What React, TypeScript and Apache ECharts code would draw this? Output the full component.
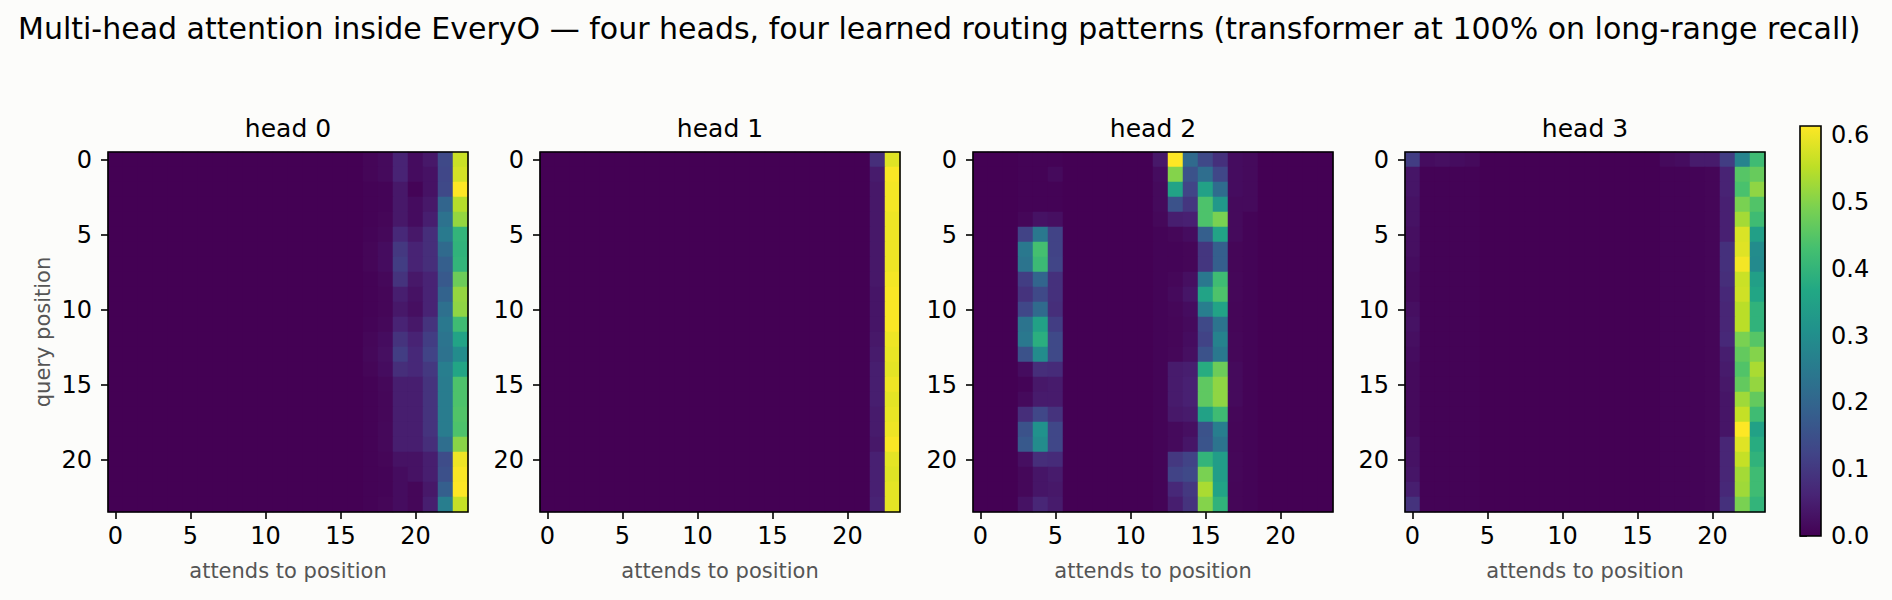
import React, { useEffect, useRef } from 'react';
import * as echarts from 'echarts';

// positions 0..23 (query rows, key columns)
const positions = [
	'0', '1', '2', '3', '4', '5', '6', '7', '8', '9', '10', '11',
	'12', '13', '14', '15', '16', '17', '18', '19', '20', '21', '22', '23'
];
const headNames = ['head 0', 'head 1', 'head 2', 'head 3'];
const vmax = 0.614;

// each head: the key columns that carry weight, and one 24-row array per column
// (columns not listed are ~0)
const head0Cols = [17, 18, 19, 20, 21, 22, 23];
const head0Vals = [
	[0.008, 0.008, 0.003, 0.003, 0.003, 0.005, 0.008, 0.008, 0.004, 0.003, 0.003, 0.005, 0.01, 0.012, 0.008, 0.004, 0.003, 0.003, 0.003, 0.003, 0.003, 0.003, 0.003, 0.003],
	[0.015, 0.015, 0.006, 0.006, 0.008, 0.012, 0.02, 0.02, 0.012, 0.008, 0.008, 0.012, 0.02, 0.025, 0.02, 0.012, 0.01, 0.01, 0.012, 0.012, 0.008, 0.006, 0.006, 0.008],
	[0.06, 0.06, 0.04, 0.04, 0.04, 0.07, 0.1, 0.11, 0.09, 0.05, 0.04, 0.06, 0.09, 0.11, 0.08, 0.05, 0.05, 0.05, 0.05, 0.05, 0.03, 0.02, 0.02, 0.02],
	[0.02, 0.02, 0.005, 0.02, 0.02, 0.04, 0.06, 0.06, 0.04, 0.03, 0.025, 0.04, 0.06, 0.07, 0.07, 0.05, 0.05, 0.05, 0.05, 0.05, 0.03, 0.03, 0.01, 0.01],
	[0.04, 0.03, 0.03, 0.04, 0.05, 0.08, 0.08, 0.08, 0.06, 0.06, 0.06, 0.09, 0.11, 0.12, 0.1, 0.09, 0.09, 0.09, 0.09, 0.08, 0.05, 0.05, 0.04, 0.05],
	[0.135, 0.13, 0.135, 0.2, 0.23, 0.25, 0.21, 0.185, 0.17, 0.195, 0.225, 0.245, 0.235, 0.23, 0.26, 0.255, 0.255, 0.255, 0.255, 0.22, 0.14, 0.15, 0.185, 0.26],
	[0.565, 0.575, 0.614, 0.545, 0.515, 0.4, 0.395, 0.4, 0.475, 0.515, 0.51, 0.42, 0.355, 0.295, 0.36, 0.44, 0.44, 0.445, 0.44, 0.505, 0.6, 0.61, 0.614, 0.56]
];

const head1Cols = [22, 23];
const head1Vals = [
	[0.08, 0.045, 0.04, 0.04, 0.04, 0.04, 0.04, 0.04, 0.04, 0.035, 0.035, 0.035, 0.04, 0.045, 0.05, 0.05, 0.05, 0.045, 0.045, 0.04, 0.055, 0.055, 0.055, 0.06],
	[0.585, 0.61, 0.605, 0.605, 0.6, 0.6, 0.6, 0.6, 0.605, 0.61, 0.61, 0.61, 0.6, 0.595, 0.59, 0.6, 0.59, 0.595, 0.6, 0.61, 0.59, 0.585, 0.59, 0.59]
];

const head2Cols = [3, 4, 5, 12, 13, 14, 15, 16, 17, 18];
const head2Vals = [
	[0.003, 0.003, 0.003, 0.003, 0.01, 0.12, 0.245, 0.235, 0.11, 0.09, 0.13, 0.235, 0.245, 0.155, 0.02, 0.005, 0.015, 0.08, 0.155, 0.17, 0.025, 0.012, 0.012, 0.03],
	[0.003, 0.003, 0.003, 0.003, 0.03, 0.245, 0.43, 0.415, 0.2, 0.135, 0.21, 0.35, 0.385, 0.295, 0.08, 0.04, 0.045, 0.13, 0.31, 0.295, 0.08, 0.035, 0.035, 0.065],
	[0.003, 0.015, 0.003, 0.003, 0.025, 0.12, 0.12, 0.125, 0.085, 0.085, 0.08, 0.11, 0.135, 0.135, 0.075, 0.045, 0.045, 0.09, 0.13, 0.13, 0.075, 0.045, 0.04, 0.045],
	[0.04, 0.02, 0.015, 0.015, 0.012, 0.005, 0.005, 0.005, 0.005, 0.005, 0.005, 0.005, 0.005, 0.005, 0.005, 0.005, 0.005, 0.005, 0.005, 0.005, 0.005, 0.005, 0.005, 0.005],
	[0.614, 0.5, 0.355, 0.155, 0.05, 0.01, 0.005, 0.005, 0.01, 0.015, 0.01, 0.008, 0.008, 0.01, 0.045, 0.045, 0.045, 0.04, 0.015, 0.015, 0.1, 0.12, 0.07, 0.05],
	[0.21, 0.155, 0.125, 0.095, 0.055, 0.02, 0.008, 0.008, 0.025, 0.035, 0.02, 0.015, 0.02, 0.025, 0.05, 0.055, 0.055, 0.045, 0.025, 0.035, 0.12, 0.135, 0.1, 0.09],
	[0.135, 0.22, 0.35, 0.44, 0.44, 0.185, 0.095, 0.095, 0.245, 0.355, 0.26, 0.135, 0.12, 0.155, 0.38, 0.46, 0.46, 0.35, 0.155, 0.16, 0.4, 0.49, 0.535, 0.5],
	[0.085, 0.13, 0.215, 0.325, 0.49, 0.355, 0.185, 0.185, 0.42, 0.44, 0.355, 0.235, 0.27, 0.245, 0.475, 0.51, 0.51, 0.42, 0.26, 0.235, 0.34, 0.34, 0.355, 0.395],
	[0.02, 0.02, 0.02, 0.015, 0.015, 0.015, 0.008, 0.008, 0.01, 0.01, 0.008, 0.008, 0.01, 0.01, 0.015, 0.015, 0.015, 0.01, 0.008, 0.008, 0.01, 0.01, 0.008, 0.008],
	[0.015, 0.015, 0.015, 0.015, 0.005, 0.005, 0.005, 0.005, 0.005, 0.005, 0.005, 0.005, 0.005, 0.005, 0.005, 0.005, 0.005, 0.005, 0.005, 0.005, 0.005, 0.005, 0.005, 0.005]
];

const head3Cols = [0, 1, 2, 3, 4, 17, 18, 19, 20, 21, 22, 23];
const head3Vals = [
	[0.11, 0.035, 0.035, 0.03, 0.03, 0.025, 0.025, 0.02, 0.015, 0.015, 0.025, 0.03, 0.025, 0.02, 0.015, 0.015, 0.015, 0.015, 0.015, 0.03, 0.03, 0.035, 0.05, 0.09],
	[0.02, 0.003, 0.003, 0.003, 0.003, 0.003, 0.003, 0.003, 0.003, 0.003, 0.003, 0.003, 0.003, 0.003, 0.003, 0.003, 0.003, 0.003, 0.003, 0.003, 0.003, 0.003, 0.003, 0.003],
	[0.025, 0.003, 0.003, 0.003, 0.003, 0.003, 0.003, 0.003, 0.003, 0.003, 0.003, 0.003, 0.003, 0.003, 0.003, 0.003, 0.003, 0.003, 0.003, 0.003, 0.003, 0.003, 0.003, 0.003],
	[0.02, 0.003, 0.003, 0.003, 0.003, 0.003, 0.003, 0.003, 0.003, 0.003, 0.003, 0.003, 0.003, 0.003, 0.003, 0.003, 0.003, 0.003, 0.003, 0.003, 0.003, 0.003, 0.003, 0.003],
	[0.015, 0.003, 0.003, 0.003, 0.003, 0.003, 0.003, 0.003, 0.003, 0.003, 0.003, 0.003, 0.003, 0.003, 0.003, 0.003, 0.003, 0.003, 0.003, 0.003, 0.003, 0.003, 0.003, 0.003],
	[0.015, 0.003, 0.003, 0.003, 0.003, 0.003, 0.003, 0.003, 0.003, 0.003, 0.003, 0.003, 0.003, 0.003, 0.003, 0.003, 0.003, 0.003, 0.003, 0.003, 0.003, 0.003, 0.003, 0.003],
	[0.02, 0.003, 0.003, 0.003, 0.003, 0.003, 0.003, 0.003, 0.003, 0.003, 0.003, 0.003, 0.003, 0.003, 0.003, 0.003, 0.003, 0.003, 0.003, 0.003, 0.003, 0.003, 0.003, 0.003],
	[0.045, 0.005, 0.005, 0.005, 0.005, 0.005, 0.005, 0.005, 0.005, 0.005, 0.005, 0.005, 0.005, 0.005, 0.005, 0.005, 0.005, 0.005, 0.005, 0.005, 0.005, 0.005, 0.005, 0.005],
	[0.045, 0.008, 0.008, 0.008, 0.008, 0.008, 0.008, 0.008, 0.008, 0.008, 0.008, 0.008, 0.008, 0.008, 0.008, 0.008, 0.008, 0.008, 0.008, 0.008, 0.008, 0.008, 0.008, 0.008],
	[0.11, 0.06, 0.06, 0.055, 0.055, 0.055, 0.085, 0.085, 0.08, 0.07, 0.065, 0.065, 0.07, 0.05, 0.045, 0.04, 0.035, 0.035, 0.035, 0.065, 0.065, 0.065, 0.07, 0.085],
	[0.275, 0.45, 0.435, 0.49, 0.53, 0.58, 0.585, 0.605, 0.565, 0.57, 0.55, 0.55, 0.49, 0.465, 0.445, 0.465, 0.525, 0.56, 0.614, 0.585, 0.56, 0.53, 0.525, 0.49],
	[0.42, 0.47, 0.51, 0.445, 0.42, 0.345, 0.295, 0.29, 0.345, 0.36, 0.395, 0.395, 0.45, 0.5, 0.535, 0.515, 0.465, 0.42, 0.35, 0.38, 0.395, 0.42, 0.42, 0.4]
];

const heads = [
	{ cols: head0Cols, vals: head0Vals },
	{ cols: head1Cols, vals: head1Vals },
	{ cols: head2Cols, vals: head2Vals },
	{ cols: head3Cols, vals: head3Vals }
];

const viridis = [
	'#440154', '#482475', '#414487', '#355f8d', '#2a788e', '#21918c',
	'#22a884', '#44bf70', '#7ad151', '#bddf26', '#fde725'
];

// layout (px)
const gridLefts = [108, 540, 973, 1405];
const gridTop = 152;
const gridSize = 360;
const font = 'DejaVu Sans';

const App: React.FC = () => {
	const chartRef = useRef<HTMLDivElement>(null);

	useEffect(() => {
		if (!chartRef.current) return;
		document.body.style.margin = '0';
		document.body.style.background = '#fcfcfa';

		const chart = echarts.init(chartRef.current, null, { renderer: 'svg' });

		// turn the per-column arrays into [x, y, value] cells
		const cellsFor = (cols: number[], vals: number[][]) => {
			const out: number[][] = [];
			positions.forEach((_, r) => {
				positions.forEach((__, c) => {
					const k = cols.indexOf(c);
					out.push([c, r, k >= 0 ? vals[k][r] : 0]);
				});
			});
			return out;
		};

		const grids: any[] = gridLefts.map(left => ({
			left, top: gridTop, width: gridSize, height: gridSize, containLabel: false
		}));
		// colorbar axis grid (0 .. 0.6 ticks)
		const cbTop = 536 - (0.6 / vmax) * 410;
		grids.push({ left: 1800, top: cbTop, width: 21, height: 536 - cbTop });

		const tickStyle = { color: '#000', width: 1.6 };

		const xAxes: any[] = gridLefts.map((_, i) => ({
			type: 'category',
			gridIndex: i,
			data: positions,
			axisLine: { show: false },
			axisTick: { show: true, alignWithLabel: true, interval: 4, length: 7, lineStyle: tickStyle },
			axisLabel: { interval: 4, fontSize: 24, fontFamily: font, color: '#000', margin: 12 },
			splitLine: { show: false },
			name: 'attends to position',
			nameLocation: 'middle',
			nameGap: 48,
			nameTextStyle: { fontSize: 21, fontFamily: font, color: '#555' }
		}));
		xAxes.push({ type: 'value', gridIndex: 4, show: false, min: 0, max: 1 });

		const yAxes: any[] = gridLefts.map((_, i) => ({
			type: 'category',
			gridIndex: i,
			data: positions,
			inverse: true,
			axisLine: { show: false },
			axisTick: { show: true, alignWithLabel: true, interval: 4, length: 7, lineStyle: tickStyle },
			axisLabel: { interval: 4, fontSize: 24, fontFamily: font, color: '#000', margin: 16 },
			splitLine: { show: false },
			name: i === 0 ? 'query position' : '',
			nameLocation: 'middle',
			nameGap: 55,
			nameTextStyle: { fontSize: 21, fontFamily: font, color: '#555' }
		}));
		yAxes.push({
			type: 'value',
			gridIndex: 4,
			position: 'right',
			min: 0,
			max: 0.6,
			interval: 0.1,
			axisLine: { show: false },
			axisTick: { show: true, length: 7, lineStyle: tickStyle },
			axisLabel: {
				fontSize: 24, fontFamily: font, color: '#000', margin: 10,
				formatter: (v: number) => v.toFixed(1)
			},
			splitLine: { show: false }
		});

		const series: any[] = heads.map((h, i) => ({
			type: 'heatmap',
			xAxisIndex: i,
			yAxisIndex: i,
			data: cellsFor(h.cols, h.vals),
			itemStyle: { borderWidth: 0 },
			emphasis: { disabled: true }
		}));
		series.push({ type: 'line', xAxisIndex: 4, yAxisIndex: 4, data: [] });

		const graphics: any[] = [
			{
				type: 'text',
				left: 18,
				top: 13,
				style: {
					text: 'Multi-head attention inside EveryO — four heads, four learned routing patterns (transformer at 100% on long-range recall)',
					fontSize: 30, fontFamily: font, fill: '#000'
				}
			}
		];
		gridLefts.forEach((left, i) => {
			graphics.push({
				type: 'text',
				x: left + gridSize / 2,
				y: 128,
				style: {
					text: headNames[i], fontSize: 25, fontFamily: font, fill: '#000',
					align: 'center', verticalAlign: 'middle'
				}
			});
			graphics.push({
				type: 'rect',
				shape: { x: left, y: gridTop, width: gridSize, height: gridSize },
				style: { fill: 'none', stroke: '#000', lineWidth: 1.6 },
				z: 100
			});
		});
		graphics.push({
			type: 'rect',
			shape: { x: 1800, y: 126, width: 21, height: 410 },
			style: {
				fill: new echarts.graphic.LinearGradient(0, 1, 0, 0,
					viridis.map((color, k) => ({ offset: k / (viridis.length - 1), color }))),
				stroke: '#000',
				lineWidth: 1.6
			},
			z: 100
		});

		chart.setOption({
			animation: false,
			backgroundColor: '#fcfcfa',
			grid: grids,
			xAxis: xAxes,
			yAxis: yAxes,
			visualMap: {
				type: 'continuous',
				show: false,
				min: 0,
				max: vmax,
				seriesIndex: [0, 1, 2, 3],
				inRange: { color: viridis }
			},
			series,
			graphic: graphics
		});

		return () => {
			chart.dispose();
		};
	}, []);

	return <div ref={chartRef} style={{ width: '1892px', height: '600px' }} />;
};

export default App;
